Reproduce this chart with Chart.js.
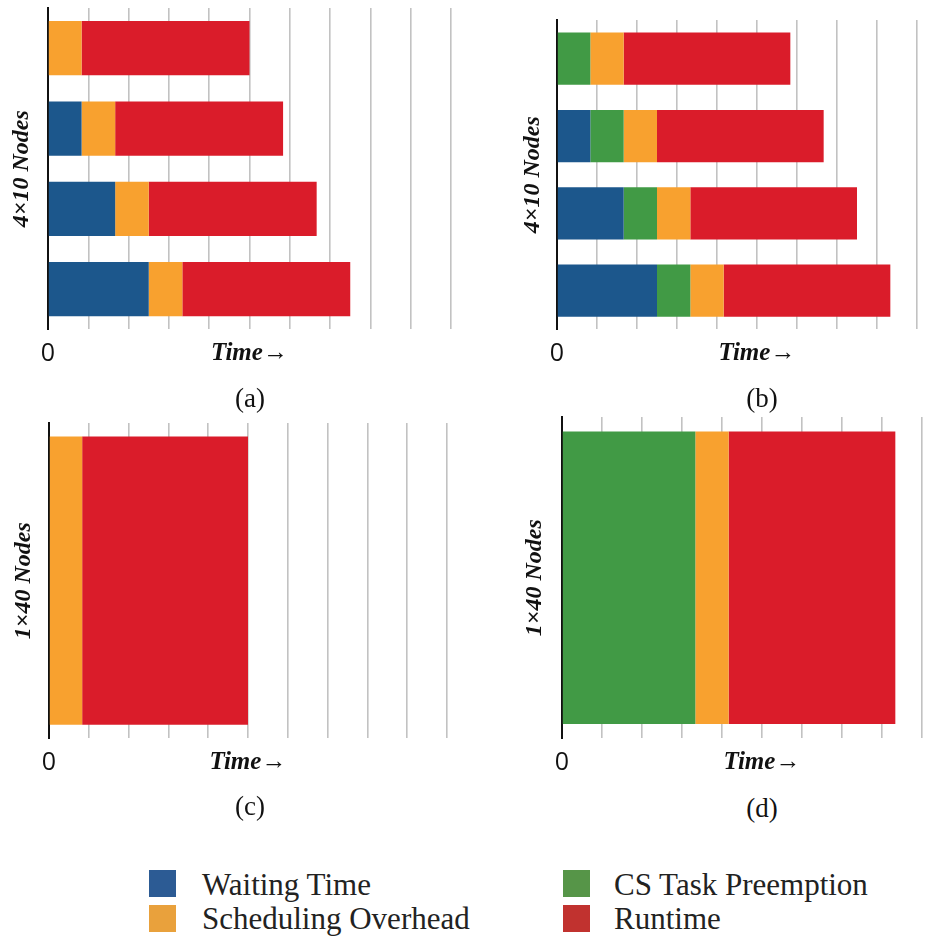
<!DOCTYPE html>
<html>
<head>
<meta charset="utf-8">
<script src="https://cdn.jsdelivr.net/npm/chart.js@4.4.0/dist/chart.umd.min.js"></script>
<style>
  body { margin: 0; background: #fff; width: 951px; height: 936px; overflow: hidden; position: relative; }
  canvas { position: absolute; }
  .cap { position: absolute; font-family: 'Liberation Serif', 'Times New Roman', serif; font-size: 27px; color: #111;
         transform: translate(-50%, -50%); line-height: 1; }
  .key { position: absolute; width: 27px; height: 27px; }
  .keytxt { position: absolute; font-family: 'Liberation Serif', 'Times New Roman', serif; font-size: 31px; color: #222;
            line-height: 1; transform: translateY(-50%); white-space: nowrap; }
</style>
</head>
<body>
<canvas id="chartA" width="480" height="382" style="left:0;top:0"></canvas>
<canvas id="chartB" width="471" height="382" style="left:480px;top:0"></canvas>
<canvas id="chartC" width="480" height="382" style="left:0;top:410px"></canvas>
<canvas id="chartD" width="471" height="382" style="left:480px;top:410px"></canvas>

<div class="cap" style="left:250px;top:398px">(a)</div>
<div class="cap" style="left:762px;top:398px">(b)</div>
<div class="cap" style="left:250px;top:806px">(c)</div>
<div class="cap" style="left:762px;top:808px">(d)</div>

<div class="key" style="left:149px;top:870px;background:#2c5b94"></div>
<div class="keytxt" style="left:202px;top:884px">Waiting Time</div>
<div class="key" style="left:149px;top:905px;background:#e9a13c"></div>
<div class="keytxt" style="left:202px;top:918px">Scheduling Overhead</div>
<div class="key" style="left:563px;top:870px;background:#569548"></div>
<div class="keytxt" style="left:614px;top:884px">CS Task Preemption</div>
<div class="key" style="left:563px;top:905px;background:#c1322f"></div>
<div class="keytxt" style="left:614px;top:918px">Runtime</div>

<script>
// rows are listed top to bottom
const rowsA = ['1', '2', '3', '4'];
const waitA = [0, 1, 2, 3];
const schedA = [1, 1, 1, 1];
const runA = [5, 5, 5, 5];

const rowsB = ['1', '2', '3', '4'];
const waitB = [0, 1, 2, 3];
const preemptB = [1, 1, 1, 1];
const schedB = [1, 1, 1, 1];
const runB = [5, 5, 5, 5];

const rowsC = ['1'];
const schedC = [1];
const runC = [5];

const rowsD = ['1'];
const preemptD = [4];
const schedD = [1];
const runD = [5];

const gridStep = 1.2;
const timeLabelAt = 6;

const colors = {
  wait: '#1c578c',
  preempt: '#419a45',
  sched: '#f8a12f',
  run: '#da1c2a'
};

function ds(label, data, color) {
  return { label: label, data: data, backgroundColor: color, borderWidth: 0 };
}

function makeChart(id, rows, datasets, o) {
  new Chart(document.getElementById(id), {
    type: 'bar',
    data: { labels: rows, datasets: datasets },
    options: {
      indexAxis: 'y',
      responsive: false,
      animation: false,
      devicePixelRatio: 1,
      layout: { padding: o.pad },
      datasets: { bar: { categoryPercentage: 1, barPercentage: o.barPct } },
      plugins: { legend: { display: false }, tooltip: { enabled: false } },
      scales: {
        x: {
          stacked: true,
          min: 0,
          max: o.max,
          grid: { color: '#c2c2c2', lineWidth: 1.6, drawTicks: false },
          border: { display: false },
          ticks: {
            stepSize: gridStep,
            autoSkip: false,
            maxRotation: 0,
            padding: 9.5,
            color: '#111',
            callback: v => v === 0 ? '0' : (Math.abs(v - timeLabelAt) < 1e-6 ? 'Time\u2192' : ''),
            font: c => (c.tick && Math.abs(c.tick.value - timeLabelAt) < 1e-6)
              ? { family: "'Liberation Serif', 'Times New Roman', serif", size: 25, style: 'italic', weight: 'bold' }
              : { family: "'Open Sans', sans-serif", size: 25 }
          }
        },
        y: {
          stacked: true,
          grid: { display: false, drawTicks: false },
          border: { display: true, color: '#111', width: 2 },
          ticks: { display: false },
          title: {
            display: true,
            text: o.title,
            color: '#111',
            padding: o.titlePad,
            font: { family: "'Liberation Serif', 'Times New Roman', serif", size: 24, style: 'italic', weight: 'bold' }
          }
        }
      }
    }
  });
}

makeChart('chartA', rowsA, [
  ds('Waiting Time', waitA, colors.wait),
  ds('Scheduling Overhead', schedA, colors.sched),
  ds('Runtime', runA, colors.run)
], { max: 12, barPct: 0.675, title: '4\u00d710 Nodes',
     pad: { left: 7.6, top: 8, right: 29, bottom: 3.6 }, titlePad: { top: 0, bottom: 11.6 } });

makeChart('chartB', rowsB, [
  ds('Waiting Time', waitB, colors.wait),
  ds('CS Task Preemption', preemptB, colors.preempt),
  ds('Scheduling Overhead', schedB, colors.sched),
  ds('Runtime', runB, colors.run)
], { max: 10.8, barPct: 0.675, title: '4\u00d710 Nodes',
     pad: { left: 38.6, top: 20, right: 34, bottom: 3.6 }, titlePad: { top: 0, bottom: 9.6 } });

makeChart('chartC', rowsC, [
  ds('Scheduling Overhead', schedC, colors.sched),
  ds('Runtime', runC, colors.run)
], { max: 12, barPct: 0.914, title: '1\u00d740 Nodes',
     pad: { left: 9.6, top: 13, right: 33, bottom: 4.6 }, titlePad: { top: 0, bottom: 10.6 } });

makeChart('chartD', rowsD, [
  ds('CS Task Preemption', preemptD, colors.preempt),
  ds('Scheduling Overhead', schedD, colors.sched),
  ds('Runtime', runD, colors.run)
], { max: 10.8, barPct: 0.91, title: '1\u00d740 Nodes',
     pad: { left: 40.6, top: 7, right: 29, bottom: 4.6 }, titlePad: { top: 0, bottom: 12.6 } });
</script>
</body>
</html>
